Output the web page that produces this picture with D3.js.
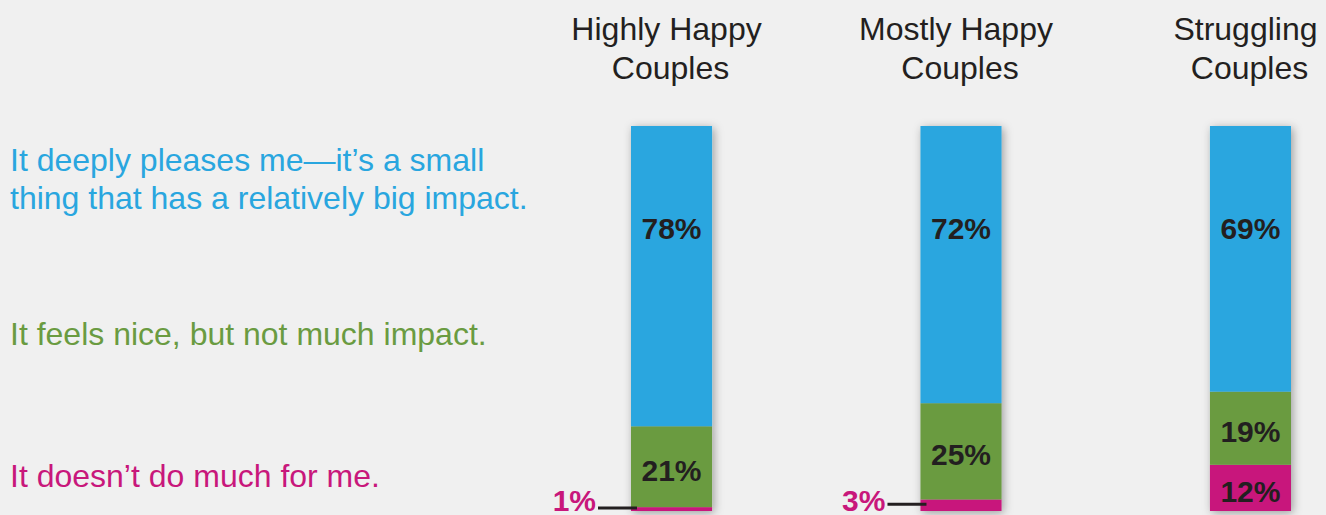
<!DOCTYPE html>
<html>
<head>
<meta charset="utf-8">
<script src="https://cdn.jsdelivr.net/npm/d3@7"></script>
<style>
  html, body { margin: 0; padding: 0; background: #f0f0f0; }
  svg { display: block; font-family: "Liberation Sans", Arial, sans-serif; }
  .head { font-size: 32px; fill: #231f20; }
  .resp { font-size: 32px; }
  .val { font-size: 30px; font-weight: bold; fill: #231f20; }
</style>
</head>
<body>
<svg id="chart" width="1326" height="515"></svg>
<script>
// groups of couples, shown as columns
var groups = ["Highly Happy Couples", "Mostly Happy Couples", "Struggling Couples"]
var headLines = [["Highly Happy", "Couples"], ["Mostly Happy", "Couples"], ["Struggling", "Couples"]]

// answers, bottom to top of the stack
var keys = ["none", "nice", "deep"]
var answers = ["It doesn\u2019t do much for me.",
	"It feels nice, but not much impact.",
	"It deeply pleases me\u2014it\u2019s a small thing that has a relatively big impact."]
var answerLines = [["It doesn\u2019t do much for me."],
	["It feels nice, but not much impact."],
	["It deeply pleases me\u2014it\u2019s a small", "thing that has a relatively big impact."]]

// percentages per group
var deep = [78, 72, 69]
var nice = [21, 25, 19]
var none = [1, 3, 12]

var colors = {none: "#c8177b", nice: "#6a9b41", deep: "#29a6df"}

var rows = groups.map(function(g, i) {
	return {group: g, deep: deep[i], nice: nice[i], none: none[i]}
})

var svg = d3.select("#chart")

var defs = svg.append("defs")
var shadow = defs.append("filter")
	.attr("id", "shadow")
	.attr("x", "-30%").attr("y", "-10%")
	.attr("width", "160%").attr("height", "120%")
shadow.append("feDropShadow")
	.attr("dx", 2).attr("dy", 2)
	.attr("stdDeviation", 5)
	.attr("flood-color", "#000")
	.attr("flood-opacity", 0.35)

var x = d3.scaleBand()
	.domain(groups)
	.range([631, 1291])
	.paddingInner(0.72)
	.paddingOuter(0)

var y = d3.scaleLinear()
	.domain([0, 100])
	.range([511, 126])

var series = d3.stack().keys(keys)(rows)

// column headers (first line sits a little left of the bar centre)
svg.append("g").selectAll("text")
	.data(groups)
	.join("text")
	.attr("class", "head")
	.attr("text-anchor", "middle")
	.attr("y", 40)
	.each(function(d, i) {
		var t = d3.select(this)
		var cx = x(d) + x.bandwidth() / 2
		headLines[i].forEach(function(line, j) {
			t.append("tspan")
				.attr("x", j == 0 ? cx - 5 : cx - 1)
				.attr("dy", j == 0 ? 0 : 39)
				.text(line)
		})
	})

// answer labels on the left
var labelY = {deep: 171, nice: 345, none: 487}
svg.append("g").selectAll("text")
	.data(keys)
	.join("text")
	.attr("class", "resp")
	.attr("x", 10)
	.attr("y", function(d) { return labelY[d] })
	.style("fill", function(d) { return colors[d] })
	.each(function(d, i) {
		var t = d3.select(this)
		answerLines[i].forEach(function(line, j) {
			t.append("tspan")
				.attr("x", 10)
				.attr("dy", j == 0 ? 0 : 38)
				.text(line)
		})
	})

// bars
var bars = svg.append("g").selectAll("g")
	.data(rows)
	.join("g")
	.attr("filter", "url(#shadow)")

bars.selectAll("rect")
	.data(function(d) {
		return series.map(function(s) {
			var p = s.find(function(e) { return e.data.group == d.group })
			return {key: s.key, y0: p[0], y1: p[1], group: d.group}
		})
	})
	.join("rect")
	.attr("x", function(d) { return x(d.group) })
	.attr("width", x.bandwidth())
	.attr("y", function(d) { return y(d.y1) })
	.attr("height", function(d) { return y(d.y0) - y(d.y1) })
	.style("fill", function(d) { return colors[d.key] })

// value labels
var labels = svg.append("g")
series.forEach(function(s) {
	s.forEach(function(p) {
		var v = p[1] - p[0]
		var cx = x(p.data.group) + x.bandwidth() / 2
		var h = y(p[0]) - y(p[1])
		if (s.key == "deep") {
			labels.append("text")
				.attr("class", "val")
				.attr("text-anchor", "middle")
				.attr("x", cx)
				.attr("y", y(p[1]) + 113)
				.text(v + "%")
		} else if (h > 30) {
			labels.append("text")
				.attr("class", "val")
				.attr("text-anchor", "middle")
				.attr("x", cx)
				.attr("y", (y(p[0]) + y(p[1])) / 2 + 14)
				.text(v + "%")
		} else {
			// small slice: label outside with a leader line
			var ly = (y(p[0]) + y(p[1])) / 2 - 1
			labels.append("line")
				.attr("x1", x(p.data.group) - 33)
				.attr("x2", x(p.data.group) + 6)
				.attr("y1", ly)
				.attr("y2", ly)
				.style("stroke", "#231f20")
				.style("stroke-width", 3)
			labels.append("text")
				.attr("class", "val")
				.attr("text-anchor", "end")
				.attr("x", x(p.data.group) - 35)
				.attr("y", 511)
				.style("fill", colors[s.key])
				.text(v + "%")
		}
	})
})
</script>
</body>
</html>
